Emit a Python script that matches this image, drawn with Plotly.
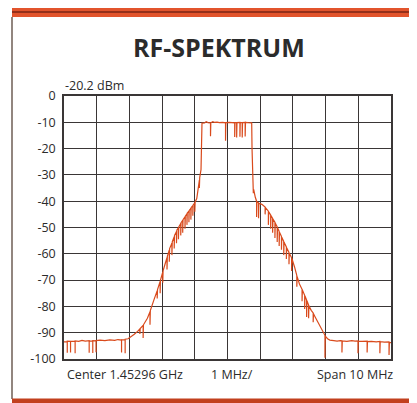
import plotly.graph_objects as go

# Frequency offset from span start (MHz, 1 MHz per division) and level (dBm)
freq_mhz = [
    0.00, 0.05, 0.10, 0.10, 0.10, 0.20, 0.20, 0.20, 0.34, 0.34, 0.34, 0.45, 0.55, 0.65,
    0.77, 0.77, 0.77, 0.88, 0.88, 0.88, 0.98, 0.98, 0.98, 1.10, 1.25, 1.40, 1.55, 1.65,
    1.76, 1.76, 1.76, 1.87, 1.87, 1.87, 1.96,
    2.05, 2.15, 2.25, 2.32, 2.32, 2.33, 2.42, 2.42, 2.43, 2.55, 2.63, 2.63, 2.64, 2.75,
    2.85, 2.85, 2.86, 2.94, 2.94, 2.95, 3.02, 3.02, 3.03, 3.10, 3.15, 3.15, 3.16,
    3.22, 3.22, 3.23, 3.30, 3.30, 3.31, 3.37, 3.37, 3.38, 3.44, 3.44, 3.45,
    3.50, 3.50, 3.51, 3.57, 3.57, 3.58, 3.63, 3.63, 3.64, 3.70, 3.70, 3.71,
    3.76, 3.76, 3.77, 3.82, 3.82, 3.83, 3.88, 3.88, 3.89, 3.94, 3.94, 3.95,
    4.00, 4.00, 4.01, 4.06, 4.10, 4.14, 4.14, 4.15, 4.19, 4.21, 4.22,
    4.22, 4.30, 4.35, 4.40, 4.45, 4.48, 4.48, 4.49, 4.55, 4.60, 4.68, 4.75, 4.85,
    4.94, 4.94, 4.95, 5.05, 5.15, 5.22, 5.22, 5.23, 5.28, 5.28, 5.29, 5.38, 5.38, 5.39,
    5.45, 5.45, 5.46, 5.54, 5.54, 5.55, 5.63, 5.74,
    5.75, 5.77, 5.79, 5.79, 5.80, 5.85, 5.89, 5.89, 5.90, 5.95, 5.95, 5.96, 6.05,
    6.15, 6.15, 6.16, 6.25, 6.25, 6.26, 6.32, 6.32, 6.33, 6.38, 6.38, 6.39,
    6.45, 6.45, 6.46, 6.52, 6.52, 6.53, 6.58, 6.58, 6.59, 6.65, 6.65, 6.66,
    6.72, 6.72, 6.73, 6.80, 6.80, 6.81, 6.88, 6.88, 6.89, 6.96, 6.96, 6.97, 7.05,
    7.12, 7.12, 7.13, 7.20, 7.28, 7.28, 7.29, 7.36, 7.36, 7.37, 7.42, 7.42, 7.43,
    7.48, 7.48, 7.49, 7.56, 7.62, 7.62, 7.63, 7.68, 7.80, 7.90, 7.98, 7.98, 7.99,
    8.06, 8.13, 8.25, 8.35, 8.45, 8.50, 8.50, 8.51, 8.65, 8.80, 8.90, 8.99, 8.99, 9.00,
    9.12, 9.27, 9.27, 9.28, 9.40, 9.55, 9.66, 9.66, 9.67, 9.80, 9.94, 9.94, 9.95, 10.00,
]
level_dbm = [
    -93.5, -93.3, -93.4, -97.6, -93.2, -93.3, -97.5, -93.3, -93.2, -97.8, -93.1, -93.3, -92.9, -93.2,
    -93.0, -97.6, -93.1, -93.2, -97.7, -93.0, -93.1, -97.4, -93.0, -92.8, -93.0, -92.7, -92.9, -92.6,
    -92.8, -97.5, -92.7, -92.7, -97.8, -92.5, -92.3,
    -91.6, -90.6, -89.5, -88.6, -90.5, -88.4, -87.2, -92.0, -87.0, -84.5, -82.0, -87.0, -81.6, -77.5,
    -74.0, -77.0, -73.6, -70.5, -75.0, -70.0, -67.0, -71.0, -66.5, -63.5, -61.5, -66.0, -61.0,
    -58.5, -63.0, -58.0, -56.0, -60.5, -55.5, -53.5, -58.0, -53.0, -51.5, -56.0, -51.0,
    -50.0, -54.5, -49.8, -48.5, -53.0, -48.2, -47.3, -52.0, -47.0, -46.0, -50.5, -45.7,
    -44.8, -49.0, -44.5, -43.8, -48.0, -43.5, -42.7, -47.0, -42.4, -41.7, -45.5, -41.4,
    -40.6, -44.0, -40.3, -39.0, -36.0, -32.0, -35.0, -31.0, -28.0, -20.0, -10.5,
    -10.3, -10.2, -9.8, -10.1, -10.0, -10.2, -15.3, -10.2, -9.8, -10.0, -9.9, -10.1, -10.0,
    -10.2, -17.0, -10.1, -10.0, -10.1, -10.2, -15.6, -10.1, -10.1, -15.8, -10.1, -10.0, -15.5, -10.1,
    -10.1, -15.8, -10.1, -10.0, -15.4, -10.0, -10.1, -10.2,
    -20.0, -28.0, -34.5, -37.0, -35.5, -38.5, -40.0, -46.0, -40.2, -40.6, -46.5, -40.8, -41.2,
    -42.2, -45.0, -42.4, -43.8, -49.0, -44.0, -45.2, -50.5, -45.5, -46.5, -52.0, -46.8,
    -48.0, -54.0, -48.3, -49.8, -55.5, -50.1, -51.5, -57.0, -51.8, -53.4, -58.5, -53.7,
    -55.3, -60.5, -55.6, -57.4, -62.0, -57.7, -59.5, -64.0, -59.8, -61.5, -66.5, -61.8, -65.0,
    -68.3, -72.5, -68.7, -71.5, -73.5, -78.0, -73.8, -75.8, -81.0, -76.0, -77.6, -84.0, -77.8,
    -79.5, -84.5, -79.8, -81.5, -82.5, -86.0, -82.8, -84.0, -87.0, -89.2, -91.0, -99.5, -91.3,
    -92.3, -92.8, -93.0, -93.2, -93.0, -93.1, -97.5, -93.1, -93.3, -93.0, -93.2, -93.1, -97.8, -93.2,
    -93.3, -93.2, -97.5, -93.4, -93.3, -93.5, -93.3, -97.8, -93.4, -93.6, -93.5, -98.5, -93.7, -93.8,
]

y_ticks = [0, -10, -20, -30, -40, -50, -60, -70, -80, -90, -100]
y_tick_labels = ["0", "-10", "-20", "-30", "-40", "-50", "-60", "-70", "-80", "-90", "-100"]

title_text = "RF-SPEKTRUM"
ref_text = "-20.2 dBm"
center_text = "Center 1.45296 GHz"
div_text = "1 MHz/"
span_text = "Span 10 MHz"

# page has an 8px body margin; figure is sized to fit inside the window
OFF = 8
W, H = 417 - OFF, 403 - OFF
L, R, T, B = 64 - OFF, 26, 96 - OFF, 44
PW, PH = W - L - R, H - T - B


def px(x):
    return (x - OFF - L) / PW


def py(y):
    return (H - B - (y - OFF)) / PH


FONT = "Open Sans"
TXT = "#2b2b2b"
GRID = "#3a3636"

fig = go.Figure()
fig.add_trace(go.Scatter(
    x=freq_mhz, y=level_dbm, mode="lines",
    line=dict(color="#d94a1c", width=1.2),
    hoverinfo="skip", showlegend=False,
))

shapes = [
    # top band
    dict(type="rect", xref="paper", yref="paper", x0=px(12), x1=px(417), y0=py(17), y1=py(7),
         fillcolor="#e2542c", line=dict(width=0), layer="above"),
    dict(type="rect", xref="paper", yref="paper", x0=px(12), x1=px(417), y0=py(8), y1=py(7),
         fillcolor="#f0a048", line=dict(width=0), layer="above"),
    dict(type="line", xref="paper", yref="paper", x0=px(12), x1=px(417), y0=py(12), y1=py(12),
         line=dict(color="#7a2414", width=1.6), layer="above"),
    # left border
    dict(type="line", xref="paper", yref="paper", x0=px(12), x1=px(12), y0=py(17), y1=py(399),
         line=dict(color="#6e5e55", width=1.5), layer="above"),
    # bottom band
    dict(type="rect", xref="paper", yref="paper", x0=px(12), x1=px(417), y0=py(403), y1=py(398.5),
         fillcolor="#c2401e", line=dict(width=0), layer="above"),
]

annotations = [
    dict(text=f"<b>{title_text}</b>", x=px(218.5), y=py(47.5), xref="paper", yref="paper",
         xanchor="center", yanchor="middle", showarrow=False,
         font=dict(family=FONT, size=25, color=TXT)),
    dict(text=ref_text, x=px(63), y=py(85), xref="paper", yref="paper",
         xanchor="left", yanchor="middle", showarrow=False,
         font=dict(family=FONT, size=12.5, color=TXT)),
    dict(text=center_text, x=px(65), y=py(374), xref="paper", yref="paper",
         xanchor="left", yanchor="middle", showarrow=False,
         font=dict(family=FONT, size=12.5, color=TXT)),
    dict(text=div_text, x=px(209), y=py(374), xref="paper", yref="paper",
         xanchor="left", yanchor="middle", showarrow=False,
         font=dict(family=FONT, size=12.5, color=TXT)),
    dict(text=span_text, x=px(395), y=py(374), xref="paper", yref="paper",
         xanchor="right", yanchor="middle", showarrow=False,
         font=dict(family=FONT, size=12.5, color=TXT)),
]

fig.update_layout(
    width=W, height=H,
    margin=dict(l=L, r=R, t=T, b=B, pad=0),
    paper_bgcolor="white", plot_bgcolor="white",
    shapes=shapes, annotations=annotations,
    xaxis=dict(range=[0, 10], dtick=1, tick0=0, showticklabels=False, ticks="",
               showgrid=True, gridcolor=GRID, gridwidth=1.3, zeroline=False,
               showline=True, mirror=True, linecolor=GRID, linewidth=1.5, fixedrange=True),
    yaxis=dict(range=[-100, 0], tickvals=y_ticks, ticktext=y_tick_labels, ticks="",
               showgrid=True, gridcolor=GRID, gridwidth=1.3, zeroline=False,
               showline=True, mirror=True, linecolor=GRID, linewidth=1.5,
               tickfont=dict(family=FONT, size=12.5, color=TXT), ticklabelstandoff=4,
               fixedrange=True),
)

fig.write_html("out.html", config={"displayModeBar": False})
